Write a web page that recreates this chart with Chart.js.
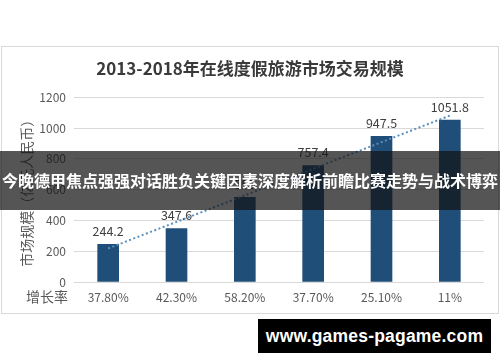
<!DOCTYPE html>
<html>
<head>
<meta charset="utf-8">
<script src="https://cdn.jsdelivr.net/npm/chart.js@4"></script>
<style>
  html, body { margin: 0; padding: 0; background: #fff; }
  #wrap { position: relative; width: 500px; height: 362px; overflow: hidden; }
  #frame { position: absolute; left: 1px; top: 46px; width: 496px; height: 266px; border: 1px solid #d9d9d9; }
  canvas { position: absolute; left: 0; top: 0; }
  #band { position: absolute; left: 0; top: 151px; width: 500px; height: 59px; background: rgba(20,20,20,0.72);
          color: #fff; font: bold 16px "Noto Sans CJK SC", sans-serif; line-height: 59px; text-align: center; white-space: nowrap; }
  #mark { position: absolute; left: 258px; top: 319px; width: 233px; height: 34px; background: #000; white-space: nowrap;
          color: #fff; font: bold 17.5px "Liberation Sans", sans-serif; line-height: 34px; text-align: center; letter-spacing: 0.2px; }
</style>
</head>
<body>
<div id="wrap">
  <div id="frame"></div>
  <canvas id="barChart" width="500" height="362"></canvas>
  <div id="band">今晚德甲焦点强强对话胜负关键因素深度解析前瞻比赛走势与战术博弈</div>
  <div id="mark">www.games-pagame.com</div>
</div>
<script>
const growthLabels = ['37.80%', '42.30%', '58.20%', '37.70%', '25.10%', '11%'];
const marketSize = [244.2, 347.6, 550, 757.4, 947.5, 1051.8];
const trendValues = [218, 391, 563, 736, 909, 1082];
const valueLabels = ['244.2', '347.6', '550', '757.4', '947.5', '1051.8'];
const yTicks = [0, 200, 400, 600, 800, 1000, 1200];

const cjk = '"Noto Sans CJK SC", sans-serif';

// bar value labels and the row caption on the left
const extras = {
    id: 'extras',
    afterDatasetsDraw(chart) {
        const ctx = chart.ctx;
        const bars = chart.getDatasetMeta(1).data;
        ctx.save();
        ctx.fillStyle = '#404040';
        ctx.font = '12.5px ' + cjk;
        ctx.textAlign = 'center';
        ctx.textBaseline = 'bottom';
        bars.forEach((bar, i) => {
            ctx.fillText(valueLabels[i], bar.x, bar.y - 7);
        });
        const xs = chart.scales.x;
        ctx.fillStyle = '#595959';
        ctx.font = '14px ' + cjk;
        ctx.textBaseline = 'middle';
        ctx.fillText('增长率', 47, xs.top + 15);
        ctx.restore();
    }
};

const chartData = {
    labels: growthLabels,
    datasets: [
        {
            type: 'line',
            label: 'trend',
            data: trendValues,
            borderColor: '#5b8fbe',
            borderWidth: 2,
            borderDash: [2, 2.5],
            pointRadius: 0,
            fill: false,
            order: 0
        },
        {
            type: 'bar',
            label: '市场规模',
            data: marketSize,
            backgroundColor: 'rgb(31,78,121)',
            barThickness: 21,
            order: 1
        }
    ]
};

const chartConfig = {
    data: chartData,
    options: {
        responsive: false,
        animation: false,
        layout: { padding: { left: 16, right: 16, top: 0, bottom: 50 } },
        plugins: {
            legend: { display: false },
            tooltip: { enabled: false },
            title: {
                display: true,
                text: '2013-2018年在线度假旅游市场交易规模',
                color: '#3a3a3a',
                font: { family: cjk, size: 17, weight: 'bold' },
                padding: { top: 58, bottom: 19 }
            }
        },
        scales: {
            x: {
                grid: { display: false, drawTicks: false },
                border: { display: false },
                ticks: { color: '#595959', font: { family: cjk, size: 12 }, padding: 8 },
                afterFit: (s) => { s.height = 30; }
            },
            y: {
                min: 0,
                max: 1200,
                afterBuildTicks: (s) => { s.ticks = yTicks.map(v => ({ value: v })); },
                grid: { color: '#d9d9d9', drawTicks: false },
                border: { display: false },
                ticks: {
                    color: '#595959',
                    font: { family: cjk, size: 12 },
                    padding: 8,
                    callback: (value) => String(value)
                },
                title: {
                    display: true,
                    text: '市场规模（亿元人民币）',
                    color: '#595959',
                    font: { family: cjk, size: 14 },
                    padding: { top: 2, bottom: 0 }
                },
                afterFit: (s) => { s.width = 58; }
            }
        }
    },
    plugins: [extras]
};

let chartID = document.getElementById('barChart');
let chart = new Chart(chartID, chartConfig);
</script>
</body>
</html>
